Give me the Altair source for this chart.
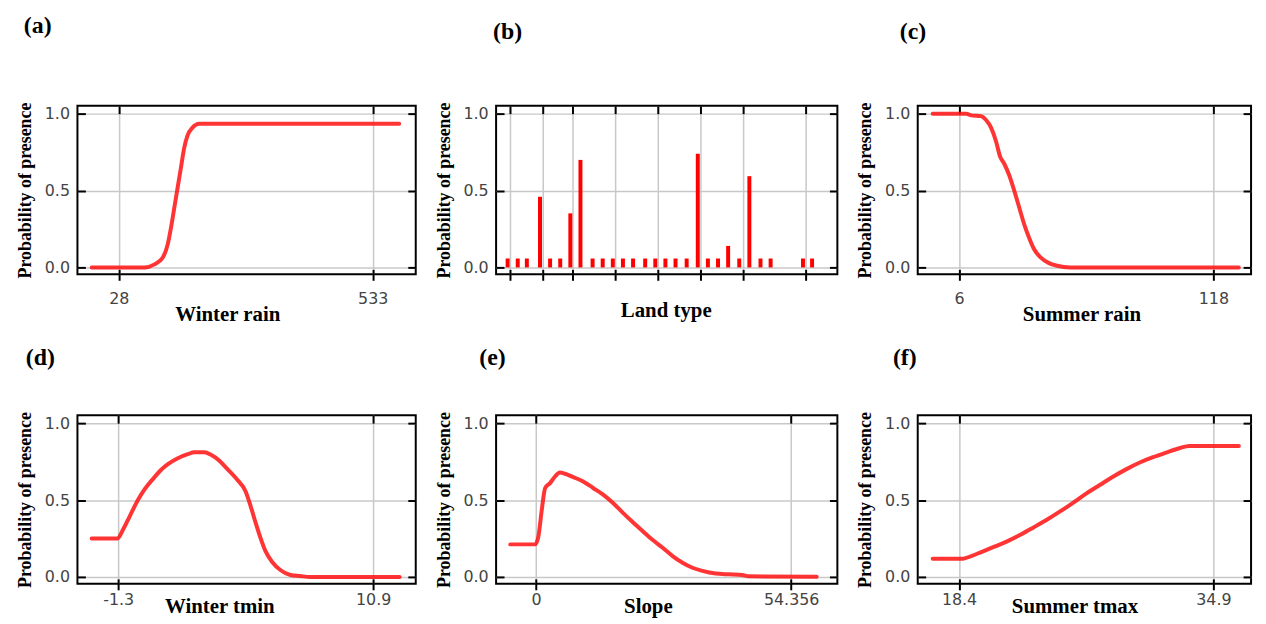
import altair as alt
import pandas as pd

# ---------------- data ----------------
# (a) Winter rain
wr_x = [-25.9, 79.3, 99.0, 115.5, 125.3, 131.9, 138.5, 145.0, 151.6, 158.2, 164.8, 174.6, 187.8, 585.6]
wr_y = [0.0, 0.0, 0.02, 0.065, 0.15, 0.26, 0.39, 0.52, 0.65, 0.78, 0.86, 0.91, 0.935, 0.935]
wr_ticks = [28, 533]

# (b) Land type (categorical codes)
land_x = [1.0, 2.0, 2.9, 4.2, 5.2, 6.2, 7.2, 8.2, 9.4, 10.4, 11.4, 12.4, 13.4, 14.6,
          15.6, 16.6, 17.6, 18.7, 19.8, 20.8, 21.8, 22.8, 23.9, 24.9, 26.0, 27.0, 30.2, 31.1]
land_y = [0.058, 0.058, 0.058, 0.46, 0.058, 0.058, 0.352, 0.70, 0.058, 0.058, 0.058, 0.058, 0.058, 0.058,
          0.058, 0.058, 0.058, 0.058, 0.74, 0.058, 0.058, 0.14, 0.058, 0.594, 0.058, 0.058, 0.058, 0.058]
land_grid = [1.22, 4.46, 7.44, 11.64, 15.85, 20.06, 24.26, 30.42]

# (c) Summer rain
sr_x = [-5.6, 9.2, 11.4, 15.7, 17.9, 20.1, 22.3, 24.0, 25.9, 28.1, 30.3, 32.5, 34.7, 36.8,
        39.0, 41.9, 45.6, 49.2, 55.0, 129.2]
sr_y = [1.0, 1.0, 0.99, 0.985, 0.96, 0.91, 0.82, 0.725, 0.675, 0.6, 0.5, 0.39, 0.28, 0.195,
        0.12, 0.065, 0.028, 0.011, 0.0, 0.0]
sr_ticks = [6, 118]

# (d) Winter tmin
wt_x = [-2.57, -1.35, -1.06, -0.75, -0.35, -0.03, 0.36, 0.76, 1.08, 1.55, 2.03, 2.34, 2.82, 3.14,
        3.53, 3.93, 4.40, 4.80, 5.04, 5.28, 5.51, 5.75, 6.07, 6.46, 6.94, 7.41, 7.89, 12.17]
wt_y = [0.25, 0.25, 0.31, 0.395, 0.503, 0.572, 0.637, 0.698, 0.734, 0.773, 0.799, 0.812, 0.812, 0.795,
        0.758, 0.702, 0.633, 0.557, 0.46, 0.352, 0.255, 0.168, 0.097, 0.045, 0.013, 0.006, 0.0, 0.0]
wt_ticks = [-1.3, 10.9]

# (e) Slope
sl_x = [-5.51, -0.21, 0.49, 1.2, 1.91, 2.96, 4.02, 5.08, 6.14, 7.91, 10.02, 12.14, 14.26, 16.38,
        18.5, 20.61, 22.73, 24.85, 26.97, 29.08, 31.2, 33.32, 35.44, 38.26, 41.09, 43.91, 45.32, 59.79]
sl_y = [0.212, 0.212, 0.266, 0.438, 0.579, 0.611, 0.654, 0.68, 0.672, 0.65, 0.622, 0.579, 0.536, 0.482,
        0.417, 0.356, 0.298, 0.24, 0.19, 0.136, 0.093, 0.06, 0.039, 0.022, 0.017, 0.013, 0.004, 0.002]
sl_ticks = [0, 54.356]

# (f) Summer tmax
st_x = [16.69, 18.66, 19.19, 19.84, 20.69, 21.55, 22.41, 23.26, 24.12, 24.98, 25.84, 26.69, 27.55,
        28.41, 29.26, 30.12, 30.98, 31.84, 32.69, 33.34, 34.84, 36.55]
st_y = [0.119, 0.119, 0.136, 0.162, 0.197, 0.233, 0.276, 0.324, 0.374, 0.428, 0.486, 0.546, 0.600,
        0.654, 0.702, 0.745, 0.780, 0.810, 0.838, 0.853, 0.853, 0.853]
st_ticks = [18.4, 34.9]

y_ticks = [0.0, 0.5, 1.0]
Y_TITLE = "Probability of presence"
Y_DOMAIN = [-0.045, 1.053]

RED = "#ff1010"
SERIF = "Liberation Serif"
SANS = "DejaVu Sans"


def panel(xs, ys, kind, xdom, xvals, xtitle, title_x, title_y, lab_pad,
          label, label_dx, label_off, width, height=170, xlabels=True):
    df = pd.DataFrame({"x": xs, "y": ys})
    xsc = alt.Scale(domain=xdom, nice=False, zero=False)
    ysc = alt.Scale(domain=Y_DOMAIN, nice=False, zero=False)

    x_main = alt.X("x:Q", scale=xsc, axis=alt.Axis(
        orient="bottom", values=xvals, offset=-5, tickSize=11, labels=xlabels,
        labelExpr="datum.value + ''", labelPadding=lab_pad,
        title=xtitle, titleX=title_x, titleY=title_y, titleAlign="center",
        titleBaseline="alphabetic", titleFontSize=21, grid=True))
    y_main = alt.Y("y:Q", scale=ysc, axis=alt.Axis(
        orient="left", values=y_ticks, offset=-8, tickSize=8, labelPadding=8,
        format=".1f", title=Y_TITLE, titlePadding=10, titleFontSize=18, grid=True))
    x_top = alt.X("x:Q", scale=xsc, axis=alt.Axis(
        orient="top", values=xvals, offset=-8, tickSize=8, labels=False,
        title=None, grid=False))
    y_right = alt.Y("y:Q", scale=ysc, axis=alt.Axis(
        orient="right", values=y_ticks, offset=-8, tickSize=8, labels=False,
        title=None, grid=False))

    base = alt.Chart(df)
    if kind == "line":
        main = base.mark_line(color=RED, strokeWidth=4, opacity=0.85,
                              interpolate="monotone", strokeCap="round").encode(x=x_main, y=y_main)
        ghost = base.mark_line(opacity=0).encode(x=x_top, y=y_right)
    else:
        main = base.mark_rule(color="#ff0000", strokeWidth=4).encode(
            x=x_main, y=y_main, y2=alt.datum(0))
        ghost = base.mark_rule(opacity=0).encode(x=x_top, y=y_right, y2=alt.datum(0))

    return alt.layer(main, ghost).resolve_axis(x="independent", y="independent").properties(
        width=width, height=height,
        title=alt.TitleParams(label, anchor="start", frame="group", dx=label_dx,
                              offset=label_off, baseline="alphabetic", font=SERIF,
                              fontSize=24, fontWeight="bold", color="black"))


pa = panel(wr_x, wr_y, "line", [-54.2, 618.5], wr_ticks, "Winter rain", 151, 52, 10,
           "(a)", -54, 46, 341)
pb = panel(land_x, land_y, "bar", [-0.14, 33.6], land_grid, "Land type", 171, 48, 10,
           "(b)", -3, 40, 344, xlabels=False)
pc = panel(sr_x, sr_y, "line", [-12.2, 134.6], sr_ticks, "Summer rain", 165, 52, 10,
           "(c)", -18, 40, 336)
pd_ = panel(wt_x, wt_y, "line", [-3.25, 12.94], wt_ticks, "Winter tmin", 143, 34, 2,
            "(d)", -52, 23, 341)
pe = panel(sl_x, sl_y, "line", [-8.54, 64.2], sl_ticks, "Slope", 153, 34, 2,
           "(e)", -17, 23, 344)
pf = panel(st_x, st_y, "line", [15.72, 37.34], st_ticks, "Summer tmax", 158, 34, 2,
           "(f)", -25, 23, 336)

row1 = alt.hconcat(pa, pb, pc, spacing=81, bounds="flush")
row2 = alt.hconcat(pd_, pe, pf, spacing=81, bounds="flush")

chart = alt.vconcat(row1, row2, spacing=312, bounds="flush").properties(
    padding={"left": 7, "top": 2, "right": 5, "bottom": 5},
    background="white",
).configure_view(stroke="black", strokeWidth=2).configure_axis(
    domain=False, tickColor="black", tickWidth=2,
    gridColor="#c8c8c8", gridWidth=1.5,
    labelFont=SANS, labelFontSize=16, labelColor="#444444",
    titleFont=SERIF, titleFontWeight="bold", titleColor="black",
)

chart.save("out.html", embed_options={"renderer": "svg", "actions": False})
